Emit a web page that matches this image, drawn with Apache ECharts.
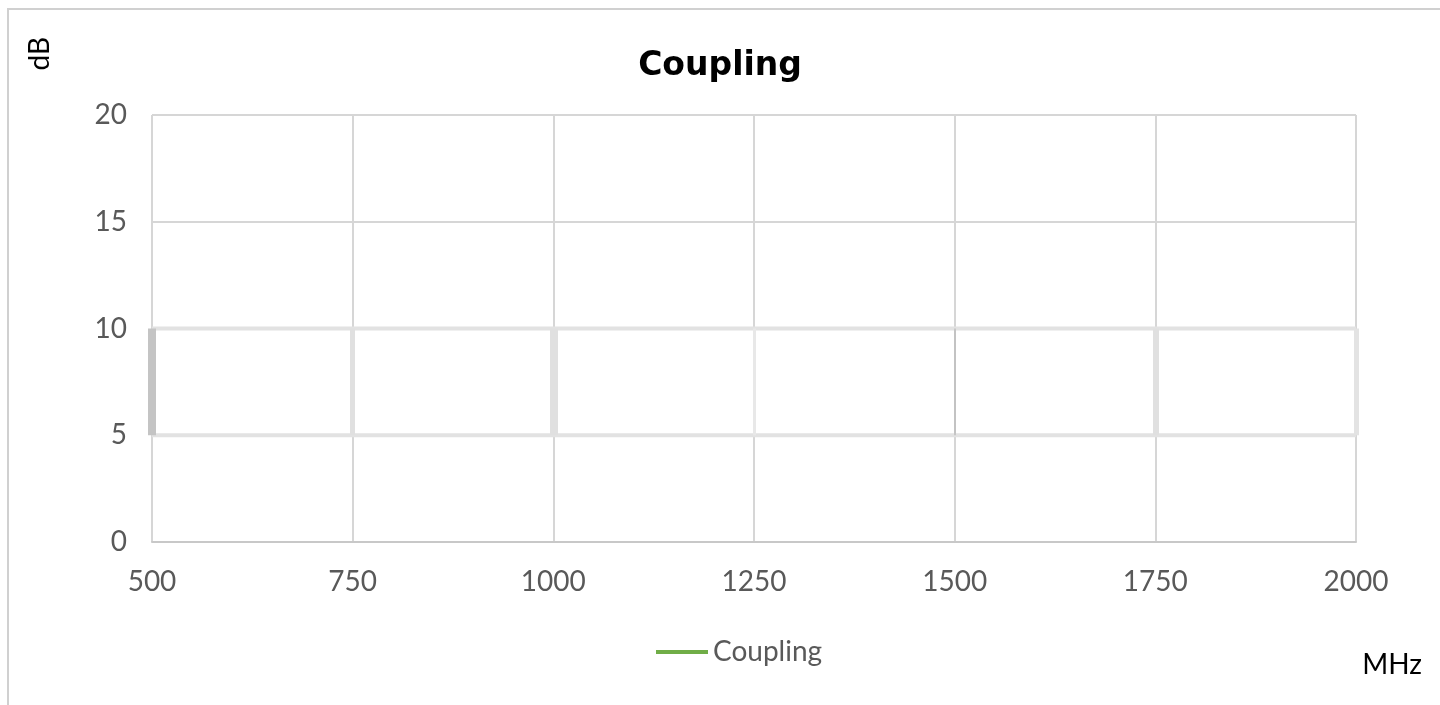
<!DOCTYPE html>
<html><head><meta charset="utf-8">
<script src="https://cdn.jsdelivr.net/npm/echarts@6/dist/echarts.min.js"></script>
<style>
html,body{margin:0;padding:0;background:#fff;}
#frame{position:absolute;left:7px;top:8px;width:1460px;height:720px;border:2px solid #d0d0d0;box-sizing:border-box;}
#c{position:absolute;left:0;top:0;width:1440px;height:705px;}
</style></head>
<body><div id="frame"></div><div id="c"></div>
<script>
// Data
const seriesName = 'Coupling';
const couplingData = [];            // no visible points in the reference
const xTicks = [500, 750, 1000, 1250, 1500, 1750, 2000];
const yTicks = [0, 5, 10, 15, 20];
const bandLow = 5, bandHigh = 10;
// styles for the band's vertical edges (one per x tick)
const bandEdgeColors = ['#c4c4c4', '#e0e0e0', '#e0e0e0', '#e8e8e8', '#bdbdbd', '#e0e0e0', '#e3e3e3'];
const bandEdgeWidths = [8, 5, 8, 3, 1.5, 6, 5];

const chart = echarts.init(document.getElementById('c'));
const font = 'Lato, "Open Sans", sans-serif';

const hLines = [];
[bandLow, bandHigh].forEach(y => { hLines.push([xTicks[0], y], [xTicks[xTicks.length-1], y], [null, null]); });

const edgeLines = xTicks.map((x, i) => ([
  {coord: [x, bandLow], lineStyle: {color: bandEdgeColors[i], width: bandEdgeWidths[i], type: 'solid'}},
  {coord: [x, bandHigh]}
]));

chart.setOption({
  animation: false,
  title: {text: 'Coupling', left: 'center', top: 45,
    textStyle: {fontFamily: '"DejaVu Sans", sans-serif', fontWeight: 'bold', fontSize: 33, color: '#000'}},
  legend: {data: [seriesName], left: 651, top: 633, icon: 'rect', itemWidth: 52, itemHeight: 4, itemGap: 6,
    textStyle: {fontFamily: font, fontSize: 28, color: '#595959'}},
  grid: {left: 152, right: 84, top: 115, bottom: 163, containLabel: false},
  xAxis: {type: 'value', min: 500, max: 2000, interval: 250,
    axisLine: {show: true, lineStyle: {color: '#c8c8c8', width: 2}},
    axisTick: {show: false},
    splitLine: {show: true, lineStyle: {color: '#d6d6d6', width: 2}},
    axisLabel: {margin: 26, fontFamily: font, fontSize: 28, color: '#595959',
      formatter: v => xTicks.includes(v) ? String(v) : ''}},
  yAxis: {type: 'value', min: 0, max: 20, interval: 5,
    axisLine: {show: false}, axisTick: {show: false},
    splitLine: {show: true, lineStyle: {color: '#d6d6d6', width: 2}},
    axisLabel: {margin: 25, fontFamily: font, fontSize: 28, color: '#595959',
      formatter: v => yTicks.includes(v) ? String(v) : ''}},
  graphic: [
    {type: 'text', left: 26, top: 37, rotation: Math.PI/2, style: {text: 'dB', font: '28px ' + font, fill: '#000'}},
    {type: 'text', right: 18, top: 651, style: {text: 'MHz', font: '28px ' + font, fill: '#000'}}
  ],
  series: [
    {name: seriesName, type: 'line', data: couplingData, showSymbol: false, color: '#70ad47',
      lineStyle: {color: '#70ad47', width: 4}},
    {name: 'band', type: 'line', data: hLines, showSymbol: false, silent: true, connectNulls: false,
      lineStyle: {color: '#e2e2e2', width: 4},
      markLine: {silent: true, symbol: 'none', label: {show: false}, data: edgeLines}}
  ]
});
</script></body></html>
